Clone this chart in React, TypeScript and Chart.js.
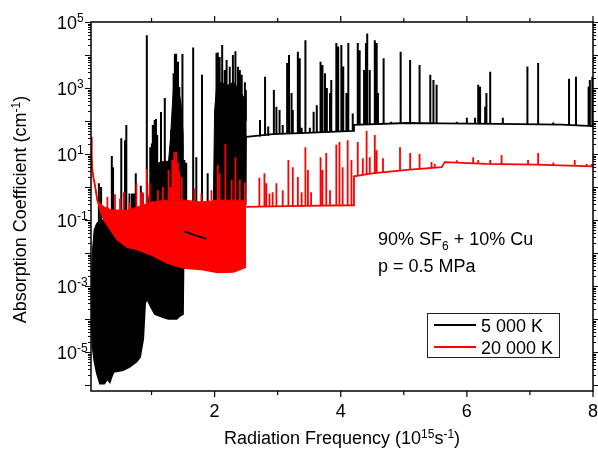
import React, { useEffect, useRef } from "react";
import { Chart, registerables } from "chart.js";

Chart.register(...registerables);

const FONT = '"Liberation Sans", Arial, Helvetica, sans-serif';
const BLACK = "#000000";
const RED = "#ff0000";

// axes
const xRange = [0.04, 8];
const yRange = [6.6e-7, 1e5];
const xMajorTicks = [2, 4, 6, 8];
const xMinorTicks = [1, 3, 5, 7];
const yDecades = [-6, -5, -4, -3, -2, -1, 0, 1, 2, 3, 4, 5];
const yLabelExps = [5, 3, 1, -1, -3, -5];

const seriesNames = ["5 000 K", "20 000 K"];

// ---- 20 000 K (red) ----
const redLowFreq = [0.04, 0.05, 0.06, 0.08, 0.1, 0.14, 0.2, 0.25, 0.37, 0.46, 0.62, 0.78, 1.0, 1.25, 1.52, 1.79, 2.05, 2.3, 2.5];
const redLowVal = [33, 8, 3.5, 1.8, 1.2, 0.4, 0.17, 0.1, 0.044, 0.025, 0.015, 0.0126, 0.0087, 0.005, 0.0035, 0.0032, 0.0026, 0.0027, 0.0038];
const redBandTop = [33, 8, 3.5, 1.8, 1.2, 0.4, 0.3, 0.25, 0.2, 0.2, 0.2, 0.25, 0.35, 0.4, 0.4, 0.35, 0.4, 0.4, 0.4];
const redHighFreq = [2.5, 2.92, 3.46, 4.2, 4.21, 4.5, 5.05, 5.6, 5.65, 6.3, 7.1, 8.0];
const redHighVal = [0.25, 0.26, 0.27, 0.28, 2.1, 2.6, 3.3, 4.0, 5.7, 5.0, 4.8, 4.2];
// [frequency, foot, peak]
const redLines: [number, number, number][] = [
  [0.3, 0.2, 0.5], [0.42, 0.2, 0.6], [0.5, 0.2, 0.45], [0.56, 0.2, 0.7],
  [0.65, 0.2, 0.35], [0.76, 0.25, 1.3], [0.83, 0.25, 0.7], [0.86, 0.25, 0.7], [0.925, 0.3, 3.5], [0.97, 0.3, 1.3],
  [1.1, 0.35, 0.8], [1.18, 0.35, 1.0],
  [1.27, 0.4, 3.3], [1.3, 0.4, 1.0], [1.33, 0.4, 6.6], [1.35, 0.4, 5], [1.36, 0.4, 11.5], [1.39, 0.4, 11.5],
  [1.42, 0.4, 5.4], [1.44, 0.4, 3], [1.48, 0.4, 2], [1.68, 0.35, 0.9], [1.79, 0.35, 0.64], [1.95, 0.4, 0.8],
  [2.05, 0.4, 4.7], [2.08, 0.4, 2.6], [2.17, 0.4, 20], [2.27, 0.4, 1.7], [2.33, 0.4, 8], [2.4, 0.4, 1.7], [2.48, 0.4, 1.4],
  [2.71, 0.25, 1.9], [2.79, 0.26, 2.6], [2.82, 0.26, 1.3], [2.87, 0.26, 0.64], [2.92, 0.26, 0.7], [2.98, 0.26, 1.3],
  [3.08, 0.26, 0.8], [3.17, 0.26, 6.6], [3.24, 0.26, 4], [3.32, 0.27, 2], [3.38, 0.27, 0.7], [3.44, 0.27, 16],
  [3.48, 0.27, 3.3], [3.53, 0.27, 0.7], [3.68, 0.27, 8], [3.71, 0.27, 3.3], [3.77, 0.27, 10.7], [3.83, 0.28, 0.8],
  [3.93, 0.28, 19], [3.98, 0.28, 23], [4.03, 0.28, 4], [4.11, 0.28, 26], [4.17, 0.28, 6.6],
  [4.27, 2.2, 23], [4.35, 2.3, 7.5], [4.41, 2.4, 50], [4.46, 2.5, 8], [4.54, 2.6, 38], [4.57, 2.6, 13], [4.67, 2.7, 7.5],
  [4.94, 3.1, 16], [5.1, 3.3, 10.7], [5.25, 3.5, 10], [5.44, 3.8, 5.7], [5.49, 3.9, 5],
  [5.84, 5.5, 6.5], [6.1, 5.3, 8], [6.18, 5.2, 6.6], [6.37, 5.0, 6.6], [6.55, 5.0, 9.3], [6.97, 4.8, 6.6],
  [7.13, 4.8, 10.7], [7.37, 4.7, 5.5], [7.71, 4.5, 6.6], [7.9, 4.3, 5], [7.98, 4.2, 5],
];

// ---- 5 000 K (black) ----
const blackBandFreq = [0.04, 0.06, 0.09, 0.13, 0.18, 0.25, 0.3, 0.34, 0.37, 0.4, 0.55, 0.65, 0.76, 0.82, 0.87, 0.9, 0.93, 0.98, 1.05, 1.2, 1.27, 1.3, 1.33, 1.36, 1.4, 1.44, 1.47, 1.5, 1.515, 1.6, 1.7, 1.87, 1.875, 1.98, 2.0, 2.03, 2.1, 2.2, 2.3, 2.4, 2.47, 2.495, 2.5];
const blackBandFloor = [2e-4, 1.6e-5, 5.5e-6, 2.3e-6, 1.1e-6, 1.1e-6, 1.5e-6, 1.2e-6, 1.8e-6, 2.5e-6, 2.8e-6, 3.5e-6, 5e-6, 7e-6, 2.5e-5, 3e-4, 4e-4, 2.5e-4, 1.4e-4, 1.1e-4, 1e-4, 1e-4, 1e-4, 1e-4, 1e-4, 1.2e-4, 1.3e-4, 1.4e-4, 0.045, 0.04, 0.034, 0.027, 0.16, 0.2, 0.2, 0.2, 0.22, 0.25, 0.28, 0.3, 0.3, 0.3, 33];
const blackBandTop = [2e-4, 0.01, 0.05, 0.08, 0.1, 0.1, 0.1, 0.1, 0.1, 0.1, 0.1, 0.1, 0.1, 0.1, 0.1, 0.1, 0.2, 1, 5, 6, 6, 30, 300, 2000, 1500, 700, 300, 40, 0.045, 0.04, 0.034, 0.027, 0.16, 0.3, 200, 1000, 1500, 1200, 1500, 800, 500, 500, 33];
const blackContFreq = [1.515, 1.6, 1.7, 1.87, 2.0, 2.5, 2.92, 3.46, 4.2, 4.21, 5.05, 5.6, 6.5, 7.5, 8.0];
const blackContVal = [0.045, 0.04, 0.034, 0.027, null, 33, 40, 44, 50, 76, 87, 85, 82, 78, 70];
const blackLines: [number, number, number][] = [
  [0.165, 0.05, 1.3], [0.2, 0.05, 1.0], [0.37, 0.05, 8.7], [0.39, 0.05, 4], [0.52, 0.05, 30], [0.58, 0.05, 26],
  [0.6, 0.05, 76], [0.65, 0.05, 0.64], [0.69, 0.05, 0.64], [0.72, 0.05, 0.64], [0.75, 0.05, 2.6], [0.83, 0.05, 1.1],
  [0.86, 0.05, 0.64], [0.925, 0.05, 40000], [0.98, 0.5, 16], [1.005, 0.5, 21], [1.02, 1, 76], [1.05, 1, 107],
  [1.07, 1, 115], [1.09, 1, 38], [1.15, 1, 186], [1.21, 1, 500], [1.26, 1, 3.3], [1.31, 1, 54], [1.35, 10, 2800],
  [1.37, 10, 11000], [1.39, 10, 11000], [1.42, 10, 6300], [1.44, 10, 1070], [1.49, 10, 10700], [1.52, 0.045, 6.6],
  [1.55, 0.045, 5.4], [1.66, 0.04, 17000], [1.71, 0.035, 8], [1.8, 0.03, 2500], [1.89, 0.16, 2.6],
  [2.03, 100, 11500], [2.05, 100, 12000], [2.08, 100, 8700], [2.12, 100, 20000], [2.16, 100, 3500], [2.19, 100, 7000],
  [2.24, 100, 4400], [2.29, 100, 10000], [2.33, 100, 13000], [2.37, 100, 4400], [2.4, 100, 3500], [2.43, 100, 2500],
  [2.48, 100, 1500], [2.495, 100, 870],
  [2.72, 34, 107], [2.8, 35, 2200], [2.85, 36, 68], [2.94, 40, 870], [2.98, 40, 270], [3.03, 41, 215], [3.08, 41, 76],
  [3.15, 42, 5700], [3.18, 42, 10000], [3.22, 42, 700], [3.24, 42, 215], [3.32, 43, 12600], [3.35, 43, 8000],
  [3.38, 43, 62], [3.44, 44, 28000], [3.51, 45, 62], [3.57, 45, 190], [3.62, 46, 300], [3.68, 46, 6300],
  [3.71, 46, 5000], [3.75, 47, 2800], [3.78, 47, 1000], [3.83, 47, 700], [3.85, 48, 1750], [3.93, 48, 23000],
  [3.96, 48, 18000], [4.01, 49, 20000], [4.04, 49, 4500], [4.09, 49, 700], [4.12, 50, 23000], [4.19, 50, 170],
  [4.27, 77, 23000], [4.3, 78, 14000], [4.37, 78, 3500], [4.4, 78, 23000], [4.42, 78, 45000], [4.46, 79, 3500],
  [4.54, 80, 28000], [4.57, 80, 23000], [4.59, 80, 700], [4.68, 81, 8000], [4.8, 83, 95], [4.95, 86, 12600],
  [5.1, 87, 7000], [5.25, 86, 5000], [5.42, 86, 2500], [5.47, 85, 1750], [5.52, 85, 1250], [5.84, 84, 95],
  [6.0, 83, 125], [6.13, 83, 125], [6.18, 83, 1250], [6.21, 83, 1100], [6.29, 83, 270], [6.31, 83, 700],
  [6.37, 82, 3100], [6.57, 82, 125], [6.96, 80, 4500], [7.13, 79, 5700], [7.37, 78, 90], [7.62, 77, 1900],
  [7.73, 76, 2200], [7.93, 71, 1100], [7.95, 71, 1750], [7.99, 70, 2200],
];

type Pt = { x: number; y: number | null };
const pts = (xs: number[], ys: (number | null)[]): Pt[] => xs.map((x, i) => ({ x, y: ys[i] }));
const spikes = (lines: [number, number, number][]): Pt[] =>
  lines.flatMap(([f, b, p]) => [{ x: f, y: b }, { x: f, y: p }, { x: f, y: null }]);

type Seg = { t: string; s?: "sup" | "sub" };

function richWidth(ctx: CanvasRenderingContext2D, segs: Seg[], size: number) {
  let w = 0;
  for (const g of segs) {
    ctx.font = `${g.s ? Math.round(size * 0.67) : size}px ${FONT}`;
    w += ctx.measureText(g.t).width;
  }
  return w;
}

function drawRich(ctx: CanvasRenderingContext2D, segs: Seg[], x: number, y: number, size: number, align: "left" | "center") {
  const w = richWidth(ctx, segs, size);
  let cx = align === "center" ? x - w / 2 : x;
  ctx.textAlign = "left";
  ctx.textBaseline = "alphabetic";
  for (const g of segs) {
    ctx.font = `${g.s ? Math.round(size * 0.67) : size}px ${FONT}`;
    const dy = g.s === "sup" ? -size * 0.36 : g.s === "sub" ? size * 0.3 : 0;
    ctx.fillText(g.t, cx, y + dy);
    cx += ctx.measureText(g.t).width;
  }
}

const framePlugin = {
  id: "frameAxes",
  afterDraw(chart: any) {
    const { ctx, chartArea: a, scales } = chart;
    const xs = scales.x;
    const ys = scales.y;
    ctx.save();
    ctx.fillStyle = "#000";
    ctx.strokeStyle = "#000";
    const line = (x1: number, y1: number, x2: number, y2: number) => {
      ctx.beginPath();
      ctx.moveTo(x1, y1);
      ctx.lineTo(x2, y2);
      ctx.stroke();
    };
    ctx.lineWidth = 1.2;
    for (const v of xMajorTicks) {
      const px = xs.getPixelForValue(v);
      line(px, a.bottom, px, a.bottom + 6);
      line(px, a.top, px, a.top - 6);
    }
    for (const v of xMinorTicks) {
      const px = xs.getPixelForValue(v);
      line(px, a.bottom, px, a.bottom + 4);
      line(px, a.top, px, a.top - 4);
    }
    ctx.lineWidth = 1;
    for (const e of yDecades) {
      for (let m = 1; m <= 9; m++) {
        const v = m * Math.pow(10, e);
        if (v < yRange[0] || v > yRange[1]) continue;
        const py = Math.round(ys.getPixelForValue(v)) + 0.5;
        const len = m === 1 ? 6 : 3;
        line(a.left - len, py, a.left, py);
        line(a.right, py, a.right + len, py);
      }
    }
    ctx.lineWidth = 1.5;
    ctx.strokeRect(a.left, a.top, a.right - a.left, a.bottom - a.top);

    ctx.font = `18px ${FONT}`;
    ctx.textAlign = "center";
    ctx.textBaseline = "alphabetic";
    for (const v of xMajorTicks) {
      ctx.fillText(String(v), xs.getPixelForValue(v), a.bottom + 26);
    }
    for (const e of yLabelExps) {
      const py = ys.getPixelForValue(Math.pow(10, e));
      drawRich(ctx, [{ t: "10" }, { t: String(e), s: "sup" }], 57, py + 6.5, 18, "left");
    }
    drawRich(
      ctx,
      [{ t: "Radiation Frequency (10" }, { t: "15", s: "sup" }, { t: "s" }, { t: "-1", s: "sup" }, { t: ")" }],
      (a.left + a.right) / 2,
      a.bottom + 53,
      18,
      "center"
    );
    ctx.save();
    ctx.translate(26, (a.top + a.bottom) / 2 + 3);
    ctx.rotate(-Math.PI / 2);
    drawRich(ctx, [{ t: "Absorption Coefficient (cm" }, { t: "-1", s: "sup" }, { t: ")" }], 0, 0, 18, "center");
    ctx.restore();

    drawRich(ctx, [{ t: "90% SF" }, { t: "6", s: "sub" }, { t: " + 10% Cu" }], 378, 245, 18, "left");
    drawRich(ctx, [{ t: "p = 0.5 MPa" }], 378, 272, 18, "left");

    ctx.lineWidth = 1;
    ctx.strokeStyle = "#222";
    ctx.strokeRect(427.5, 313.5, 132, 44);
    const rows = [
      { name: seriesNames[0], color: BLACK, y: 325 },
      { name: seriesNames[1], color: RED, y: 347 },
    ];
    for (const r of rows) {
      ctx.strokeStyle = r.color;
      ctx.lineWidth = 1.8;
      line(434, r.y, 476, r.y);
      ctx.fillStyle = "#000";
      drawRich(ctx, [{ t: r.name }], 481, r.y + 6.5, 18, "left");
    }
    ctx.restore();
  },
};

export default function App() {
  const ref = useRef<HTMLCanvasElement | null>(null);
  useEffect(() => {
    if (!ref.current) return;
    const common = { pointRadius: 0, tension: 0, spanGaps: false, fill: false };
    const chart = new Chart(ref.current, {
      type: "line",
      data: {
        datasets: [
          { ...common, label: "red lines", data: spikes(redLines), borderColor: RED, borderWidth: 1.8, order: 1 },
          { ...common, label: "red band", data: pts(redLowFreq, redBandTop), borderColor: RED, borderWidth: 1, backgroundColor: RED, fill: "+1", order: 2 },
          { ...common, label: seriesNames[1], data: pts(redLowFreq, redLowVal), borderColor: RED, borderWidth: 1.8, order: 2 },
          { ...common, label: "red high", data: pts(redHighFreq, redHighVal), borderColor: RED, borderWidth: 1.8, order: 1 },
          { ...common, label: seriesNames[0], data: pts(blackContFreq, blackContVal), borderColor: BLACK, borderWidth: 1.8, order: 0 },
          { ...common, label: "black lines", data: spikes(blackLines), borderColor: BLACK, borderWidth: 2, order: 5 },
          { ...common, label: "black band", data: pts(blackBandFreq, blackBandTop), borderColor: BLACK, borderWidth: 1, backgroundColor: BLACK, fill: "+1", order: 6 },
          { ...common, label: "black floor", data: pts(blackBandFreq, blackBandFloor), borderColor: BLACK, borderWidth: 1.5, order: 6 },
        ] as any,
      },
      options: {
        animation: false,
        responsive: false,
        devicePixelRatio: 1,
        events: [],
        layout: { padding: { left: 91, right: 5, top: 22, bottom: 61 } },
        plugins: { legend: { display: false }, tooltip: { enabled: false } },
        scales: {
          x: { type: "linear", min: xRange[0], max: xRange[1], display: false },
          y: { type: "logarithmic", min: yRange[0], max: yRange[1], display: false },
        },
      },
      plugins: [framePlugin],
    });
    return () => chart.destroy();
  }, []);
  return (
    <div style={{ position: "fixed", left: 0, top: 0, width: 598, height: 452, background: "#fff" }}>
      <canvas ref={ref} width={598} height={452} style={{ display: "block", width: 598, height: 452 }} />
    </div>
  );
}
